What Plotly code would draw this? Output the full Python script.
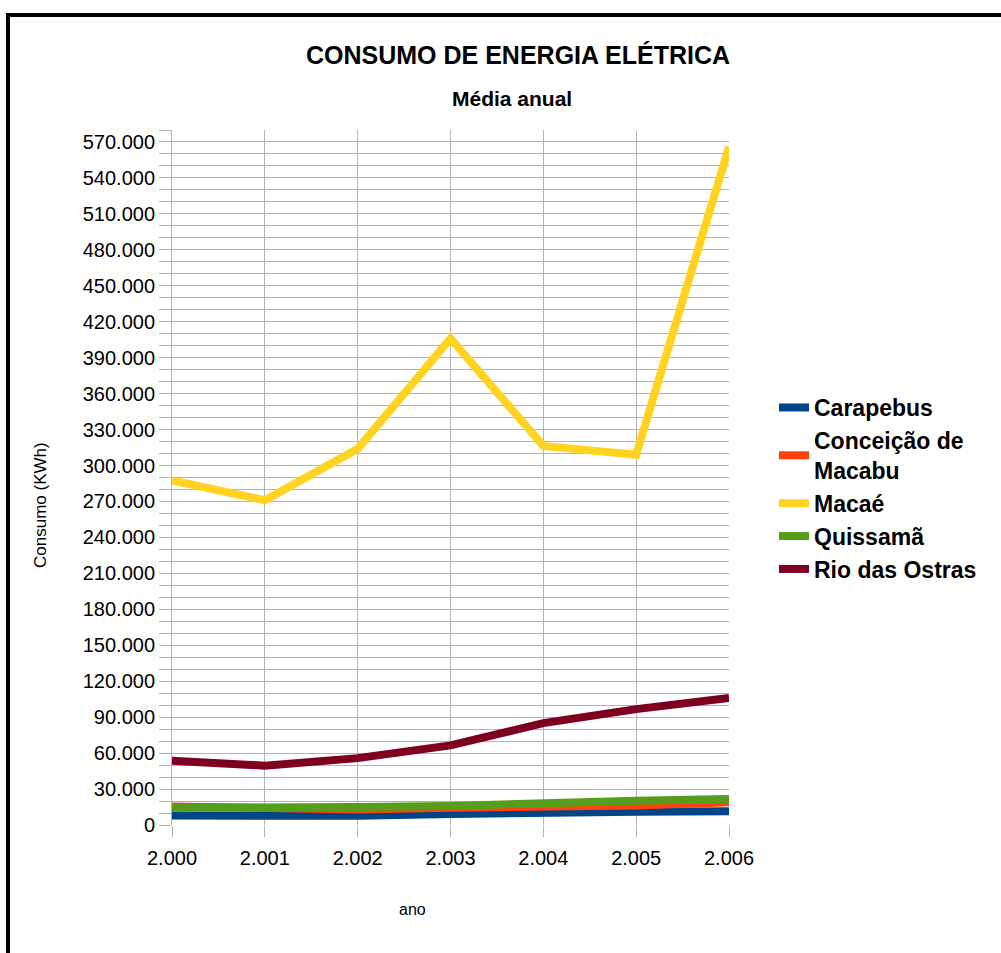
import plotly.graph_objects as go

years = [2000, 2001, 2002, 2003, 2004, 2005, 2006]
year_labels = ["2.000", "2.001", "2.002", "2.003", "2.004", "2.005", "2.006"]

carapebus = [7900, 7700, 7700, 9200, 10500, 11100, 11400]
conceicao = [15500, 13500, 13000, 14500, 15500, 16300, 19000]
macae = [287600, 271000, 314000, 406000, 316400, 309000, 566000]
quissama = [14400, 14000, 15000, 15900, 18500, 20200, 21600]
rio_ostras = [53700, 49500, 55800, 66400, 85000, 96700, 106000]

series_names = ["Carapebus", "Conceição de<br>Macabu", "Macaé", "Quissamã", "Rio das Ostras"]
series_values = [carapebus, conceicao, macae, quissama, rio_ostras]
series_colors = ["#004586", "#ff420e", "#ffd320", "#579d1c", "#7e0021"]

y_ticks = list(range(0, 580001, 10000))
y_ticktext = [(f"{v:,}".replace(",", ".") if v % 30000 == 0 else "") for v in y_ticks]

fig = go.Figure()
for name, vals, col in zip(series_names, series_values, series_colors):
    fig.add_trace(go.Scatter(x=years, y=vals, name=name, mode="lines",
                             line=dict(color=col, width=8), hoverinfo="skip"))

FONT = "Liberation Sans, Arial, sans-serif"
L, R, T, B = 172, 272, 130, 128
W, H = 1001, 953
pw, ph = W - L - R, H - T - B

def px(x):
    return (x - L) / pw

def py(y):
    return (H - B - y) / ph

fig.update_layout(
    width=W, height=H,
    margin=dict(l=L, r=R, t=T, b=B),
    paper_bgcolor="white", plot_bgcolor="white",
    font=dict(family=FONT, color="black"),
    showlegend=True,
    legend=dict(x=px(774), y=py(386), xanchor="left", yanchor="top",
                font=dict(size=23, family=FONT, color="black", weight="bold"),
                itemwidth=30, bgcolor="rgba(0,0,0,0)", tracegroupgap=0),
    xaxis=dict(range=[2000, 2006], tickvals=years, ticktext=year_labels,
               showgrid=True, gridcolor="#b3b3b3", gridwidth=1,
               showline=False, zeroline=False,
               ticks="outside", ticklen=11, tickcolor="#b3b3b3", tickwidth=1,
               tickfont=dict(size=20, family=FONT, color="black"),
               ticklabelstandoff=4),
    yaxis=dict(range=[0, 580000], tickvals=y_ticks, ticktext=y_ticktext,
               showgrid=True, gridcolor="#b3b3b3", gridwidth=1,
               showline=True, linecolor="#b3b3b3", linewidth=1, zeroline=False,
               ticks="outside", ticklen=12, tickcolor="#b3b3b3", tickwidth=1,
               tickfont=dict(size=20, family=FONT, color="black")),
    annotations=[
        dict(text="<b>CONSUMO DE ENERGIA ELÉTRICA</b>", x=px(518), y=py(55),
             xref="paper", yref="paper", showarrow=False,
             xanchor="center", yanchor="middle",
             font=dict(size=25, family=FONT, color="black")),
        dict(text="<b>Média anual</b>", x=px(512), y=py(98),
             xref="paper", yref="paper", showarrow=False,
             xanchor="center", yanchor="middle",
             font=dict(size=21, family=FONT, color="black")),
        dict(text="Consumo (KWh)", x=px(40), y=py(505), textangle=-90,
             xref="paper", yref="paper", showarrow=False,
             xanchor="center", yanchor="middle",
             font=dict(size=17, family=FONT, color="black")),
        dict(text="ano", x=px(412), y=py(910),
             xref="paper", yref="paper", showarrow=False,
             xanchor="center", yanchor="middle",
             font=dict(size=16, family=FONT, color="black")),
    ],
    shapes=[
        dict(type="line", xref="paper", yref="paper", x0=px(6), x1=px(1010),
             y0=py(15), y1=py(15), line=dict(color="black", width=4)),
        dict(type="line", xref="paper", yref="paper", x0=px(8), x1=px(8),
             y0=py(13), y1=py(970), line=dict(color="black", width=4)),
    ],
)

fig.write_html("out.html")
